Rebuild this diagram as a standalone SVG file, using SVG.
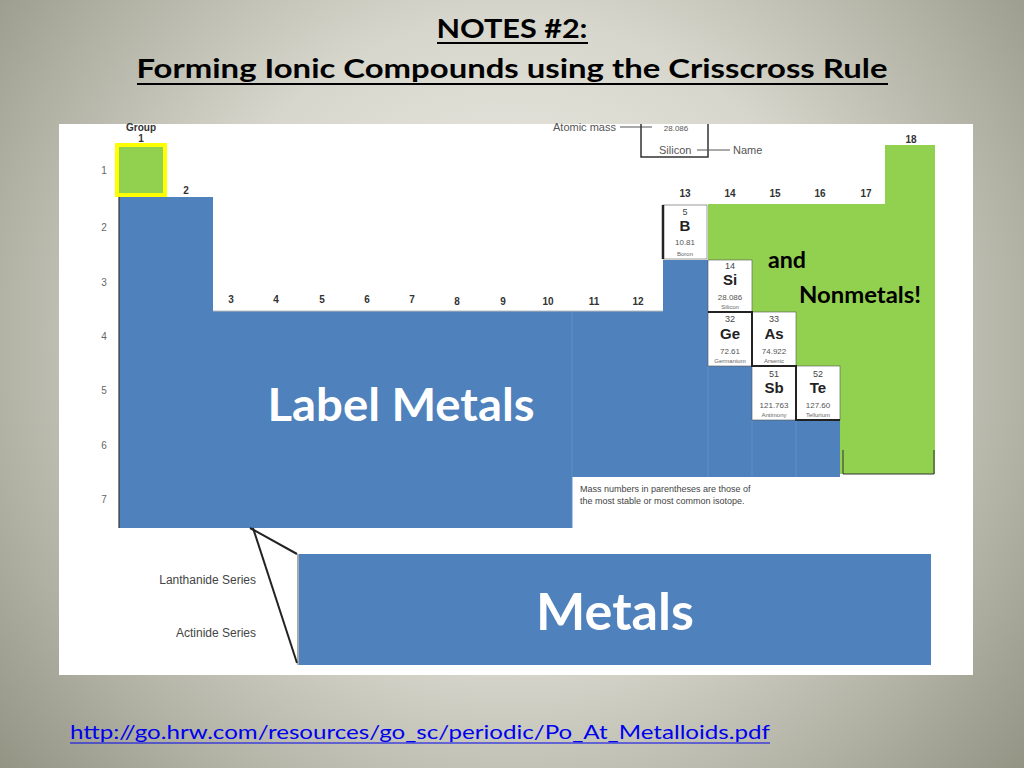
<svg xmlns="http://www.w3.org/2000/svg" width="1024" height="768" viewBox="0 0 1024 768">
<defs>
<radialGradient id="bg" cx="512" cy="340" r="720" gradientUnits="userSpaceOnUse">
<stop offset="0" stop-color="#f2f2ec"/>
<stop offset="0.45" stop-color="#d6d6cc"/>
<stop offset="1" stop-color="#8a8a7a"/>
</radialGradient>
<style>
.title{font-family:Lato,"Open Sans",sans-serif;font-weight:bold;font-size:27px;fill:#000;text-anchor:middle}
.per{font-family:"Liberation Sans",Arial,sans-serif;font-size:10px;fill:#666;text-anchor:middle}
.grp{font-family:"Liberation Sans",Arial,sans-serif;font-size:10px;font-weight:bold;fill:#333;text-anchor:middle}
.leg{font-family:"Liberation Sans",Arial,sans-serif;font-size:11px;fill:#555}
.cz{font-family:"Liberation Sans",Arial,sans-serif;font-size:9px;fill:#444;text-anchor:middle}
.cs{font-family:"Liberation Sans",Arial,sans-serif;font-size:15px;font-weight:bold;fill:#222;text-anchor:middle}
.cm{font-family:"Liberation Sans",Arial,sans-serif;font-size:8px;fill:#555;text-anchor:middle}
.cn{font-family:"Liberation Sans",Arial,sans-serif;font-size:6px;fill:#666;text-anchor:middle}
.cell{fill:#fff;stroke:#555;stroke-width:0.6}
.big{font-family:Lato,"Open Sans",sans-serif;font-weight:bold;fill:#fff;text-anchor:middle}
.nm{font-family:Lato,"Open Sans",sans-serif;font-weight:bold;font-size:22px;fill:#000}
.ser{font-family:"Liberation Sans",Arial,sans-serif;font-size:12px;fill:#444;text-anchor:end}
.note{font-family:"Liberation Sans",Arial,sans-serif;font-size:9px;fill:#444}
.div{stroke:#5e8fc8;stroke-width:1;fill:none}
</style>
</defs>
<rect x="0" y="0" width="1024" height="768" fill="url(#bg)"/>

<g id="title">
<text class="title" x="512" y="38" textLength="151" lengthAdjust="spacingAndGlyphs">NOTES #2:</text>
<line x1="437" y1="43" x2="588" y2="43" stroke="#000" stroke-width="2"/>
<text class="title" x="512" y="78" textLength="751" lengthAdjust="spacingAndGlyphs">Forming Ionic Compounds using the Crisscross Rule</text>
<line x1="137" y1="84" x2="888" y2="84" stroke="#000" stroke-width="2"/>
</g>

<rect id="panel" x="59" y="124" width="914" height="551" fill="#fff"/>

<g id="legend">
<text class="leg" x="553" y="131">Atomic mass</text>
<line x1="620" y1="127" x2="652" y2="127" stroke="#555" stroke-width="1"/>
<text class="cm" x="676" y="131">28.086</text>
<path d="M641,124 V157 H708 V124" fill="none" stroke="#333" stroke-width="1.5"/>
<text class="leg" x="659" y="154">Silicon</text>
<line x1="697" y1="150" x2="730" y2="150" stroke="#555" stroke-width="1"/>
<text class="leg" x="733" y="154">Name</text>
</g>

<g id="group-labels">
<text class="grp" x="141" y="131">Group</text>
<text class="grp" x="141" y="142">1</text>
<text class="grp" x="186" y="194">2</text>
<text class="grp" x="231" y="303">3</text>
<text class="grp" x="276" y="303">4</text>
<text class="grp" x="322" y="303">5</text>
<text class="grp" x="367" y="303">6</text>
<text class="grp" x="412" y="303">7</text>
<text class="grp" x="457" y="305">8</text>
<text class="grp" x="503" y="305">9</text>
<text class="grp" x="548" y="305">10</text>
<text class="grp" x="594" y="305">11</text>
<text class="grp" x="638" y="305">12</text>
<text class="grp" x="685" y="197">13</text>
<text class="grp" x="730" y="197">14</text>
<text class="grp" x="775" y="197">15</text>
<text class="grp" x="820" y="197">16</text>
<text class="grp" x="866" y="197">17</text>
<text class="grp" x="911" y="143">18</text>
</g>

<g id="period-labels">
<text class="per" x="104" y="174">1</text>
<text class="per" x="104" y="231">2</text>
<text class="per" x="104" y="286">3</text>
<text class="per" x="104" y="340">4</text>
<text class="per" x="104" y="394">5</text>
<text class="per" x="104" y="449">6</text>
<text class="per" x="104" y="503">7</text>
</g>

<g id="metals">
<path d="M119,197 H213 V311 H663 V260 H708 V366 H752 V420 H840 V477 H572 V528 H119 Z" fill="#4f81bd"/>
<path class="div" d="M572,312 V528 M708,366 V477 M752,420 V477 M796,420 V477"/>
<line x1="119" y1="197" x2="119" y2="528" stroke="#333" stroke-width="1.2"/>
<line x1="213" y1="311" x2="663" y2="311" stroke="#bbb" stroke-width="1"/>
<text class="big" x="401" y="421" style="font-size:46px" textLength="267" lengthAdjust="spacingAndGlyphs">Label Metals</text>
</g>

<g id="hydrogen">
<rect x="117" y="145" width="48" height="50" fill="#92d050" stroke="#ffff00" stroke-width="4"/>
</g>

<g id="nonmetals">
<path d="M885,145 H935 V474 H840 V366 H796 V312 H752 V260 H708 V204 H885 Z" fill="#92d050"/>
<path d="M934,450 V474 H843 V450" fill="none" stroke="#333" stroke-width="1"/>
<text class="nm" x="768" y="268" textLength="38" lengthAdjust="spacingAndGlyphs">and</text>
<text class="nm" x="799" y="303" textLength="122" lengthAdjust="spacingAndGlyphs">Nonmetals!</text>
</g>

<g id="metalloids">
<g id="B"><rect class="cell" x="663" y="205" width="44" height="54"/>
<text class="cz" x="685" y="215">5</text><text class="cs" x="685" y="231">B</text><text class="cm" x="685" y="245">10.81</text><text class="cn" x="685" y="256">Boron</text></g>
<g id="Si"><rect class="cell" x="708" y="260" width="44" height="52"/>
<text class="cz" x="730" y="269">14</text><text class="cs" x="730" y="285">Si</text><text class="cm" x="730" y="300">28.086</text><text class="cn" x="730" y="309">Silicon</text></g>
<g id="Ge"><rect class="cell" x="708" y="312" width="44" height="54"/>
<text class="cz" x="730" y="322">32</text><text class="cs" x="730" y="339">Ge</text><text class="cm" x="730" y="354">72.61</text><text class="cn" x="730" y="363">Germanium</text></g>
<g id="As"><rect class="cell" x="752" y="312" width="44" height="54"/>
<text class="cz" x="774" y="322">33</text><text class="cs" x="774" y="339">As</text><text class="cm" x="774" y="354">74.922</text><text class="cn" x="774" y="363">Arsenic</text></g>
<g id="Sb"><rect class="cell" x="752" y="366" width="44" height="54"/>
<text class="cz" x="774" y="377">51</text><text class="cs" x="774" y="393">Sb</text><text class="cm" x="774" y="408">121.763</text><text class="cn" x="774" y="417">Antimony</text></g>
<g id="Te"><rect class="cell" x="796" y="366" width="44" height="54"/>
<text class="cz" x="818" y="377">52</text><text class="cs" x="818" y="393">Te</text><text class="cm" x="818" y="408">127.60</text><text class="cn" x="818" y="417">Tellurium</text></g>
<path d="M663,205 V259" stroke="#222" stroke-width="2.5" fill="none"/>
<path d="M708,312 H752 V366 H796 V420 H840" stroke="#222" stroke-width="2" fill="none"/>
</g>

<text class="note" x="580" y="492">Mass numbers in parentheses are those of</text>
<text class="note" x="580" y="504">the most stable or most common isotope.</text>

<g id="connectors">
<line x1="250" y1="528" x2="297" y2="554" stroke="#222" stroke-width="2"/>
<line x1="253" y1="528" x2="297" y2="663" stroke="#222" stroke-width="2"/>
</g>

<g id="series">
<text class="ser" x="256" y="584">Lanthanide Series</text>
<text class="ser" x="256" y="637">Actinide Series</text>
<rect x="299" y="554" width="632" height="111" fill="#4f81bd"/>
<line x1="298" y1="554" x2="298" y2="665" stroke="#555" stroke-width="1"/>
<text class="big" x="615" y="630" style="font-size:52px" textLength="158" lengthAdjust="spacingAndGlyphs">Metals</text>
</g>

<g id="link">
<text x="70" y="739" font-family="Lato,'Open Sans',sans-serif" font-size="20" fill="#0000ee" textLength="700" lengthAdjust="spacingAndGlyphs">http://go.hrw.com/resources/go_sc/periodic/Po_At_Metalloids.pdf</text>
<line x1="70" y1="743" x2="770" y2="743" stroke="#0000ee" stroke-width="1.2"/>
</g>
</svg>
